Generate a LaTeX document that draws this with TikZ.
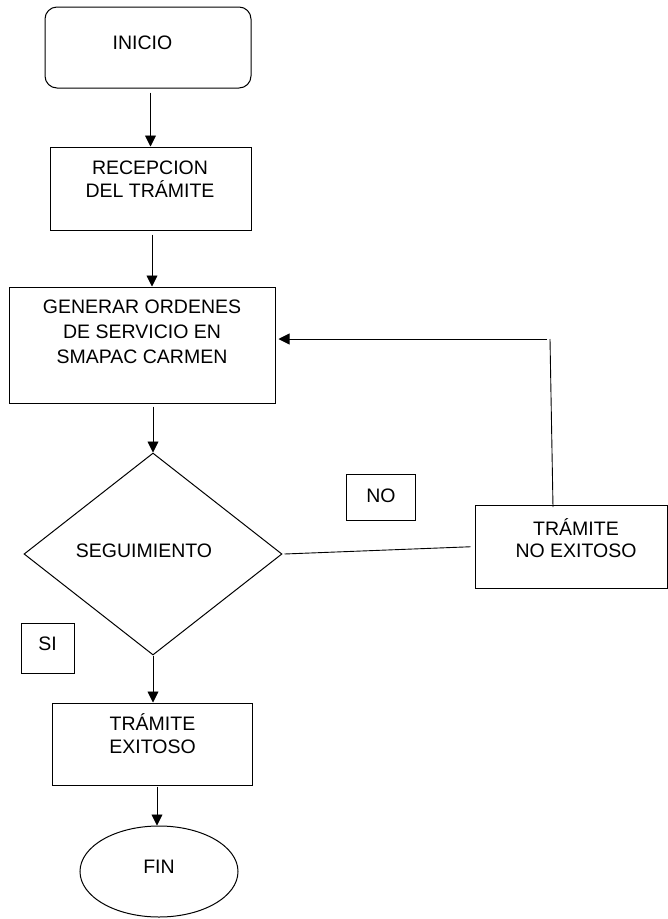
\documentclass[tikz,border=0pt]{standalone}
\usepackage{fontspec}
\setmainfont{Liberation Sans}
\usetikzlibrary{arrows.meta,shapes.geometric}
\begin{document}
\begin{tikzpicture}[x=1pt,y=-1pt,
  box/.style={draw=black,line width=1pt,inner sep=0pt,fill=none},
  txt/.style={inner sep=0pt,align=center,anchor=base,font=\fontsize{19.5pt}{23pt}\selectfont},
  conn/.style={draw=black,line width=0.9pt},
  arr/.style={conn,-{Triangle[length=11pt,width=11pt]}}]
\useasboundingbox (0,0) rectangle (668,919);
% shapes
\node[box,rounded corners=12pt,minimum width=206pt,minimum height=81pt] (inicio) at (148,47.5) {};
\node[box,minimum width=201pt,minimum height=83pt] (recep) at (150.5,188.5) {};
\node[box,minimum width=266pt,minimum height=116pt] (gen) at (142,345) {};
\node[box,diamond,minimum width=258pt,minimum height=202pt] (seg) at (153,554) {};
\node[box,minimum width=69pt,minimum height=46pt] (nobox) at (380.5,497) {};
\node[box,minimum width=53pt,minimum height=50pt] (sibox) at (47.5,648) {};
\node[box,minimum width=192.5pt,minimum height=82.5pt] (noex) at (571.25,546.75) {};
\node[box,minimum width=200pt,minimum height=82pt] (exito) at (152,744) {};
\node[box,ellipse,minimum width=158pt,minimum height=91pt] (fin) at (159,871.5) {};
% texts (base = baseline of last line)
\node[txt] (tinicio) at (142.5,49) {INICIO};
\node[txt] (trecep) at (150,197.5) {RECEPCION\\DEL TRÁMITE};
\node[txt,font=\fontsize{19.5pt}{25pt}\selectfont] (tgen) at (142,363) {GENERAR ORDENES\\DE SERVICIO EN\\SMAPAC CARMEN};
\node[txt] (tseg) at (144,557) {SEGUIMIENTO};
\node[txt] (tno) at (381,502) {NO};
\node[txt] (tsi) at (47.5,650) {SI};
\node[txt,font=\fontsize{19.5pt}{22pt}\selectfont] (tnoex) at (576,557) {TRÁMITE\\NO EXITOSO};
\node[txt] (texito) at (152.5,753) {TRÁMITE\\EXITOSO};
\node[txt] (tfin) at (159,873) {FIN};
% connectors
\draw[arr] ([yshift=-4pt]inicio.south -| recep.north) -- (recep.north);
\draw[arr] ([yshift=-4pt,xshift=1.5pt]recep.south) -- ([xshift=1.5pt]recep.south |- gen.north);
\draw[arr] ([yshift=-3pt]seg.north |- gen.south) -- (seg.north);
\draw[arr] (seg.south) -- (seg.south |- exito.north);
\draw[arr] ([yshift=-1pt,xshift=5pt]exito.south) -- ([xshift=5pt]exito.south |- fin.north);
\draw[conn] ([xshift=2pt]seg.east) -- ([xshift=-4pt]noex.west);
\coordinate (turn) at (550,339);
\draw[conn] ([xshift=3pt,yshift=-2pt]noex.north -| turn) -- (turn);
\draw[arr] ([xshift=-3pt]turn) -- ([xshift=3pt]gen.east |- turn);
\end{tikzpicture}
\end{document}
